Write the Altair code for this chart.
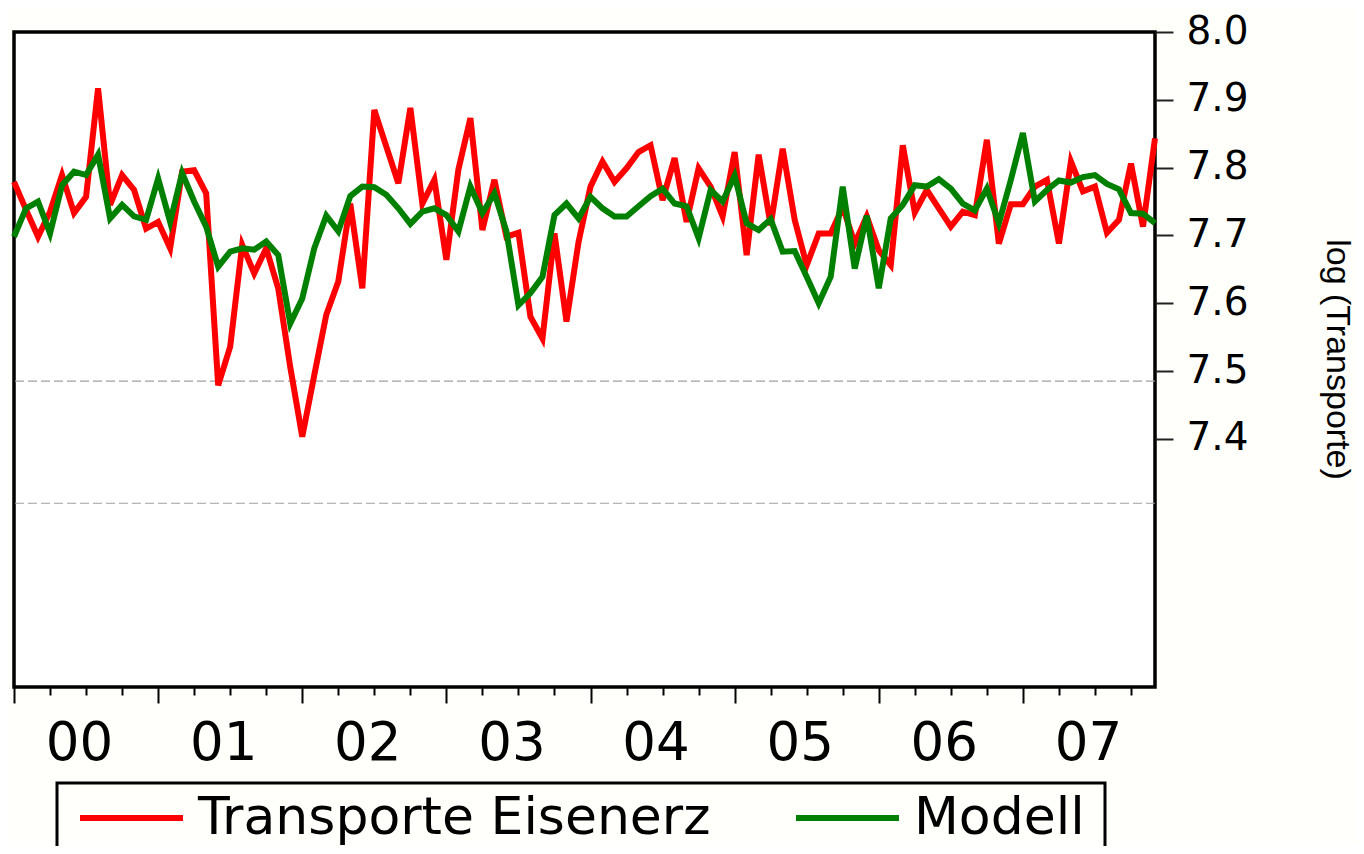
import altair as alt
import pandas as pd

# ---- data (monthly, 2000M01 .. 2007M12) ----
years = ["00", "01", "02", "03", "04", "05", "06", "07"]
series_names = ["Transporte Eisenerz", "Modell"]
series_colors = ["#ff0000", "#008000"]

transporte = [
    7.779, 7.738, 7.698, 7.735, 7.789, 7.733, 7.757, 7.917, 7.745, 7.789, 7.767, 7.710,
    7.720, 7.681, 7.794, 7.796, 7.762, 7.479, 7.536, 7.686, 7.644, 7.681, 7.622, 7.506,
    7.403, 7.494, 7.583, 7.632, 7.747, 7.622, 7.885, 7.831, 7.777, 7.888, 7.747, 7.782,
    7.664, 7.797, 7.873, 7.708, 7.782, 7.698, 7.704, 7.580, 7.548, 7.703, 7.573, 7.690,
    7.772, 7.809, 7.779, 7.799, 7.823, 7.833, 7.752, 7.814, 7.720, 7.799, 7.772, 7.728,
    7.823, 7.671, 7.819, 7.715, 7.828, 7.723, 7.656, 7.703, 7.703, 7.742, 7.688, 7.728,
    7.678, 7.656, 7.833, 7.734, 7.767, 7.740, 7.713, 7.735, 7.730, 7.841, 7.688, 7.746,
    7.746, 7.772, 7.782, 7.688, 7.809, 7.765, 7.772, 7.704, 7.723, 7.806, 7.713, 7.843,
]
modell = [
    7.698, 7.740, 7.750, 7.703, 7.774, 7.794, 7.789, 7.819, 7.725, 7.745, 7.728, 7.723,
    7.784, 7.720, 7.792, 7.750, 7.713, 7.654, 7.676, 7.681, 7.679, 7.691, 7.671, 7.570,
    7.607, 7.681, 7.729, 7.706, 7.758, 7.772, 7.771, 7.760, 7.740, 7.717, 7.735, 7.740,
    7.730, 7.706, 7.772, 7.733, 7.762, 7.706, 7.597, 7.615, 7.639, 7.730, 7.747, 7.725,
    7.757, 7.740, 7.728, 7.728, 7.743, 7.758, 7.769, 7.747, 7.743, 7.696, 7.767, 7.750,
    7.788, 7.718, 7.708, 7.724, 7.676, 7.677, 7.639, 7.600, 7.639, 7.772, 7.651, 7.729,
    7.622, 7.725, 7.745, 7.774, 7.772, 7.783, 7.769, 7.747, 7.737, 7.769, 7.718, 7.782,
    7.851, 7.750, 7.767, 7.781, 7.778, 7.786, 7.789, 7.776, 7.768, 7.733, 7.732, 7.718,
]
ref_levels = [7.485, 7.305]
y_tick_values = [7.4, 7.5, 7.6, 7.7, 7.8, 7.9, 8.0]
y_domain = [7.034, 8.0]

n = len(transporte)
df = pd.DataFrame({
    "t": list(range(n)) * 2,
    "value": transporte + modell,
    "series": [series_names[0]] * n + [series_names[1]] * n,
})
ref_df = pd.DataFrame({"level": ref_levels})

FONT = "DejaVu Sans"
year_js = "[" + ",".join("'%s'" % y for y in years) + "]"

x_enc = alt.X(
    "t:Q",
    scale=alt.Scale(domain=[0, n - 1], nice=False, zero=False),
    axis=alt.Axis(
        title=None,
        values=list(range(0, n, 3)),
        domain=False,
        grid=False,
        tickColor="black",
        tickWidth=2,
        tickSize={"condition": {"test": "datum.value % 12 === 0", "value": 16}, "value": 8},
        labelExpr="datum.value % 12 === 0 ? " + year_js + "[datum.value / 12] : ''",
        labelOffset=65,
        labelPadding=14,
        labelFont=FONT,
        labelFontSize=53,
        labelColor="black",
        labelOverlap=False,
        labelFlush=False,
        labelBound=False,
    ),
)

y_scale = alt.Scale(domain=y_domain, nice=False, zero=False)
y_axis = alt.Axis(
    orient="right",
    title="log (Transporte)",
    titleFont="Liberation Sans",
    titleFontSize=34,
    titleFontWeight="normal",
    titleAngle=90,
    titleAlign="center",
    titleBaseline="middle",
    titleX=181,
    titleY=327,
    titleColor="black",
    values=y_tick_values,
    format=".1f",
    domain=False,
    grid=False,
    tickColor="#222222",
    tickWidth=2,
    tickSize=18,
    labelPadding=13,
    labelOffset=-1,
    labelFont=FONT,
    labelFontSize=39,
    labelColor="black",
    labelOverlap=False,
)

color_enc = alt.Color(
    "series:N",
    scale=alt.Scale(domain=series_names, range=series_colors),
    legend=alt.Legend(
        title=None,
        orient="none",
        legendX=43,
        legendY=751,
        direction="horizontal",
        symbolType="stroke",
        symbolSize=10609,
        symbolStrokeWidth=6,
        labelFont=FONT,
        labelFontSize=52,
        labelColor="black",
        labelOffset=12,
        columnPadding=82,
        padding=20,
        clipHeight=30,
        strokeColor="black",
        labelLimit=0,
    ),
)

refs = alt.Chart(ref_df).mark_rule(color="#a0a0a0", strokeWidth=1.2, strokeDash=[9, 4]).encode(
    y=alt.Y("level:Q", scale=y_scale, axis=y_axis)
)

red = alt.Chart(df).transform_filter(
    alt.datum.series == series_names[0]
).mark_line(strokeWidth=6).encode(
    x=x_enc, y=alt.Y("value:Q", scale=y_scale, axis=y_axis), color=color_enc
)

green = alt.Chart(df).transform_filter(
    alt.datum.series == series_names[1]
).mark_line(strokeWidth=6).encode(
    x=x_enc, y=alt.Y("value:Q", scale=y_scale, axis=y_axis), color=color_enc
)

chart = alt.layer(refs, red, green).properties(
    width=1141,
    height=655,
    autosize=alt.AutoSizeParams(type="none"),
    padding={"left": 6, "top": 24, "right": 201, "bottom": 159},
    background="#fffffb",
).configure_view(
    stroke="black", strokeWidth=3.5, fill="white"
).configure_legend(
    strokeWidth=3
)

chart.save("out.html", embed_options={"renderer": "svg", "actions": False})
